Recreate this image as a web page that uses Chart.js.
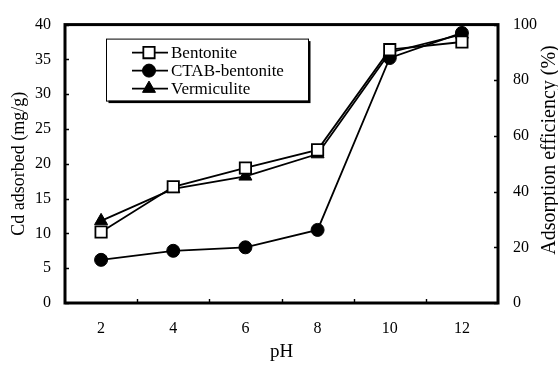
<!DOCTYPE html>
<html>
<head>
<meta charset="utf-8">
<script src="https://cdn.jsdelivr.net/npm/chart.js@4.4.1/dist/chart.umd.min.js"></script>
<style>
  html, body { margin: 0; padding: 0; background: #fff; }
  #wrap { position: relative; width: 558px; height: 365px; }
</style>
</head>
<body>
<div id="wrap"><canvas id="c" width="558" height="365"></canvas></div>
<script>
// pH values and Cd uptake (mg/g) for each sorbent
const pH = [2, 4, 6, 8, 10, 12];
const bentonite = [10.2, 16.7, 19.4, 22.0, 36.4, 37.5];
const ctabBentonite = [6.2, 7.5, 8.0, 10.5, 35.2, 38.8];
const vermiculite = [11.8, 16.4, 18.2, 21.4, 36.0, 38.6];
const seriesNames = ['Bentonite', 'CTAB-bentonite', 'Vermiculite'];
const xTickLabels = ['2', '4', '6', '8', '10', '12'];
const leftTicks = [0, 5, 10, 15, 20, 25, 30, 35, 40];
const rightTicks = [0, 20, 40, 60, 80, 100];

const SERIF = '"Liberation Serif", "Times New Roman", serif';

const toPoints = ys => pH.map((x, i) => ({ x, y: ys[i] }));

const datasets = [
  { label: seriesNames[0], data: toPoints(bentonite), pointStyle: 'rect', pointRadius: 8,
    backgroundColor: '#fff', borderColor: '#000', pointBorderWidth: 1.8 },
  { label: seriesNames[1], data: toPoints(ctabBentonite), pointStyle: 'circle', pointRadius: 6.5,
    backgroundColor: '#000', borderColor: '#000', pointBorderWidth: 1 },
  { label: seriesNames[2], data: toPoints(vermiculite), pointStyle: 'triangle', pointRadius: 7.5,
    backgroundColor: '#000', borderColor: '#000', pointBorderWidth: 1 }
].map(d => Object.assign({ borderWidth: 1.8, tension: 0, yAxisID: 'y', pointHoverRadius: d.pointRadius }, d));

// Frame, inward tick marks, right-hand title and the boxed legend
const decor = {
  id: 'decor',
  afterDatasetsDraw(chart) {
    const { ctx, chartArea: a, scales } = chart;
    ctx.save();
    ctx.strokeStyle = '#000';
    ctx.lineWidth = 1.4;
    ctx.beginPath();
    // x ticks at odd pH, pointing up into the plot
    for (let v = 3; v <= 11; v += 2) {
      const px = Math.round(scales.x.getPixelForValue(v)) + 0.5;
      ctx.moveTo(px, a.bottom); ctx.lineTo(px, a.bottom - 4);
    }
    leftTicks.forEach(v => {
      const py = Math.round(scales.y.getPixelForValue(v)) + 0.5;
      ctx.moveTo(a.left, py); ctx.lineTo(a.left + 4, py);
    });
    rightTicks.forEach(v => {
      const py = Math.round(scales.y1.getPixelForValue(v)) + 0.5;
      ctx.moveTo(a.right, py); ctx.lineTo(a.right - 4, py);
    });
    ctx.stroke();

    ctx.lineWidth = 3;
    ctx.strokeRect(a.left, a.top, a.right - a.left, a.bottom - a.top);

    // right axis title, reading bottom to top
    ctx.fillStyle = '#000';
    ctx.font = '20px ' + SERIF;
    ctx.textAlign = 'center';
    ctx.textBaseline = 'middle';
    ctx.translate(550, 150);
    ctx.rotate(-Math.PI / 2);
    ctx.fillText('Adsorption efficiency (%)', 0, 0);
    ctx.restore();

    // legend box with drop shadow
    ctx.save();
    const bx = a.left + 41, by = a.top + 14, bw = 202, bh = 62;
    ctx.fillStyle = '#000';
    ctx.fillRect(bx + 2.5, by + 2.5, bw, bh);
    ctx.fillStyle = '#fff';
    ctx.fillRect(bx, by, bw, bh);
    ctx.strokeStyle = '#000';
    ctx.lineWidth = 1;
    ctx.strokeRect(bx + 0.5, by + 0.5, bw, bh);
    ctx.font = '17px ' + SERIF;
    ctx.textAlign = 'left';
    ctx.textBaseline = 'middle';
    chart.data.datasets.forEach((ds, i) => {
      const y = by + 14 + i * 18;
      ctx.strokeStyle = '#000';
      ctx.lineWidth = 1.8;
      ctx.beginPath();
      ctx.moveTo(bx + 26, y); ctx.lineTo(bx + 62, y);
      ctx.stroke();
      ctx.fillStyle = ds.backgroundColor;
      ctx.lineWidth = ds.pointBorderWidth;
      Chart.helpers.drawPoint(ctx, { pointStyle: ds.pointStyle, radius: ds.pointRadius, borderWidth: ds.pointBorderWidth, rotation: 0 }, bx + 43, y);
      ctx.fillStyle = '#000';
      ctx.fillText(ds.label, bx + 65, y + 1);
    });
    ctx.restore();
  }
};

new Chart(document.getElementById('c'), {
  type: 'line',
  data: { datasets },
  options: {
    responsive: false,
    animation: false,
    layout: { padding: { top: 13, left: 0, right: 0, bottom: 0 } },
    plugins: { legend: { display: false }, tooltip: { enabled: false } },
    scales: {
      x: {
        type: 'linear', min: 1, max: 13,
        grid: { display: false, drawTicks: false },
        border: { display: false },
        ticks: {
          stepSize: 1, padding: 16, color: '#000', autoSkip: false, maxRotation: 0,
          font: { family: SERIF, size: 16 },
          callback: v => { const i = pH.indexOf(v); return i >= 0 ? xTickLabels[i] : ''; }
        },
        title: { display: true, text: 'pH', color: '#000', font: { family: SERIF, size: 19 }, padding: { top: 0, bottom: 2 } },
        afterFit: s => { s.height = 62; }
      },
      y: {
        position: 'left', min: 0, max: 40,
        grid: { display: false, drawTicks: false },
        border: { display: false },
        ticks: { stepSize: 5, padding: 14, color: '#000', font: { family: SERIF, size: 16 } },
        title: { display: true, text: 'Cd adsorbed (mg/g)', color: '#000', font: { family: SERIF, size: 18 }, padding: { top: 8, bottom: 0 } },
        afterFit: s => { s.width = 65; }
      },
      y1: {
        position: 'right', min: 0, max: 100,
        grid: { display: false, drawTicks: false },
        border: { display: false },
        ticks: { stepSize: 20, padding: 15, color: '#000', font: { family: SERIF, size: 16 } },
        afterFit: s => { s.width = 60; }
      }
    }
  },
  plugins: [decor]
});
</script>
</body>
</html>
